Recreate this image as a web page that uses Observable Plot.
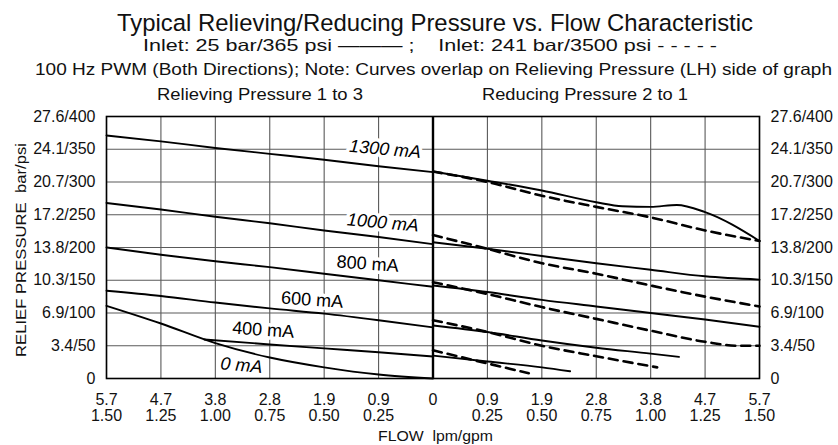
<!DOCTYPE html>
<html><head><meta charset="utf-8">
<script src="https://cdn.jsdelivr.net/npm/d3@7"></script>
<script src="https://cdn.jsdelivr.net/npm/@observablehq/plot@0.6"></script>
<style>
body{margin:0;background:#fff;}
#chart{width:838px;height:445px;}
</style>
</head><body><div id="chart"></div>
<script>
// ---------- data ----------
// flow in gpm: negative = Relieving side (1 to 3, plotted leftwards), positive = Reducing side (2 to 1)
const xTicks = [-1.5,-1.25,-1.0,-0.75,-0.5,-0.25,0,0.25,0.5,0.75,1.0,1.25,1.5];
const xTickLpm = ["5.7","4.7","3.8","2.8","1.9","0.9","0","0.9","1.9","2.8","3.8","4.7","5.7"];
const xTickGpm = ["1.50","1.25","1.00","0.75","0.50","0.25","","0.25","0.50","0.75","1.00","1.25","1.50"];
const yTicks = [0,50,100,150,200,250,300,350,400];
const yTickLabels = ["0","3.4/50","6.9/100","10.3/150","13.8/200","17.2/250","20.7/300","24.1/350","27.6/400"];

// Relieving side (curves overlap for both inlets)
const leftFlow = [-1.5,-1.25,-1.0,-0.75,-0.5,-0.25,0];
const left1300 = [371,362,352,343,334,324,315];
const left1000 = [268,258,247,237,226,216,205];
const left800  = [200,189,179,170,160,150,140];
const left600  = [134,126,116,107,99,89,78];
const left0    = [111,84,54,32,17,6,0];
const left400Flow = [-1.05,-0.75,-0.5,-0.25,0];
const left400  = [59.5,52,46,40,33.5];

// Reducing side, inlet 25 bar (solid)
const r1300sFlow = [0,0.25,0.5,0.75,0.87,1.0,1.12,1.25,1.5];
const r1300s     = [316,302,287,269,263,262,265,254,210];
const rStdFlow   = [0,0.25,0.5,0.75,1.0,1.25,1.5];
const r1000s     = [208,198,187,176,166,156,151];
const r800s      = [142,132,120,110,100,90,79];
const r600sFlow  = [0,0.25,0.5,0.75,1.0,1.13];
const r600s      = [81,71,58,47,38,33];
const r400sFlow  = [0,0.25,0.5,0.63];
const r400s      = [35,26,17,11];

// Reducing side, inlet 241 bar (dashed)
const r1300d     = [316,300,279,262,246,226,210];
const r1000d     = [219,198,176,160,142,125,110];
const r800dFlow  = [0,0.25,0.5,0.75,1.0,1.25,1.4,1.5];
const r800d      = [147,129,109,91,73,56,50,50];
const r600dFlow  = [0,0.25,0.5,0.75,1.03];
const r600d      = [89,71,50,34,17];
const r400dFlow  = [0,0.25,0.44];
const r400d      = [43,23,8];

// curve labels (anchor in data coordinates)
const labelText = ["1300 mA","1000 mA","800 mA","600 mA","400 mA","0 mA"];
const labelFlow = [-0.22,-0.23,-0.30,-0.555,-0.78,-0.88];
const labelPsi  = [350,238,175,120,74,20];
const labelItalic = [true,true,false,false,false,true];

// ---------- build tables ----------
function series(key, flows, vals){ return flows.map((f,i)=>({key, flow:f, psi:vals[i]})); }
const solid = [
  ...series("L1300", leftFlow, left1300),
  ...series("L1000", leftFlow, left1000),
  ...series("L800", leftFlow, left800),
  ...series("L600", leftFlow, left600),
  ...series("L0", leftFlow, left0),
  ...series("L400", left400Flow, left400),
  ...series("R1300", r1300sFlow, r1300s),
  ...series("R1000", rStdFlow, r1000s),
  ...series("R800", rStdFlow, r800s),
  ...series("R600", r600sFlow, r600s),
  ...series("R400", r400sFlow, r400s)
];
const dashed = [
  ...series("R1300", rStdFlow, r1300d),
  ...series("R1000", rStdFlow, r1000d),
  ...series("R800", r800dFlow, r800d),
  ...series("R600", r600dFlow, r600d),
  ...series("R400", r400dFlow, r400d)
];
const labels = labelText.map((t,i)=>({text:t, flow:labelFlow[i], psi:labelPsi[i], italic:labelItalic[i]}));

const font = "'Liberation Sans', Arial, Helvetica, sans-serif";
const xFmt = d => { const i = xTicks.indexOf(d); return xTickGpm[i] ? xTickLpm[i] + "\n" + xTickGpm[i] : xTickLpm[i]; };
const yFmt = d => yTickLabels[yTicks.indexOf(d)];

const chart = Plot.plot({
  width: 838, height: 445,
  marginTop: 116, marginBottom: 67, marginLeft: 106, marginRight: 79,
  style: {fontFamily: font, background: "white", color: "#111"},
  x: {domain: [-1.5, 1.5]},
  y: {domain: [0, 400]},
  marks: [
    Plot.gridX(xTicks, {stroke: "#5a5a5a", strokeOpacity: 1, strokeWidth: 1.1}),
    Plot.gridY(yTicks, {stroke: "#5a5a5a", strokeOpacity: 1, strokeWidth: 1.1}),
    Plot.axisY(yTicks, {anchor: "left", tickSize: 0, tickPadding: 11, tickFormat: yFmt, fontSize: 16, label: null}),
    Plot.axisY(yTicks, {anchor: "right", tickSize: 0, tickPadding: 11, tickFormat: yFmt, fontSize: 16, label: null}),
    Plot.axisX(xTicks, {anchor: "bottom", tickSize: 0, tickPadding: 15, tickFormat: xFmt, fontSize: 16, lineHeight: 1.0, label: null}),
    Plot.ruleX([0], {stroke: "black", strokeWidth: 2.4}),
    Plot.frame({stroke: "black", strokeWidth: 1.6}),
    Plot.line(solid, {x: "flow", y: "psi", z: "key", stroke: "black", strokeWidth: 1.9, curve: "monotone-x"}),
    Plot.line(dashed, {x: "flow", y: "psi", z: "key", stroke: "black", strokeWidth: 2.6, strokeDasharray: "9,6", curve: "monotone-x"}),
    Plot.text(labels.filter(d=>d.italic), {x: "flow", y: "psi", text: "text", rotate: 5, fontSize: 18, fontStyle: "italic", fill: "black", stroke: "white", strokeWidth: 7}),
    Plot.text(labels.filter(d=>!d.italic), {x: "flow", y: "psi", text: "text", rotate: 4, fontSize: 18, fill: "black", stroke: "white", strokeWidth: 7})
  ]
});
document.getElementById("chart").appendChild(chart);

// titles and axis names
const svg = d3.select(chart);
const g = svg.append("g").attr("font-family", font).attr("fill", "#111");
function addText(txt, x, y, size, len, anchor, rot){
  const t = g.append("text").attr("x", x).attr("y", y).attr("font-size", size)
    .attr("text-anchor", anchor || "start").attr("xml:space","preserve").style("white-space","pre").text(txt);
  if (len) t.attr("textLength", len).attr("lengthAdjust", "spacingAndGlyphs");
  if (rot) t.attr("transform", `rotate(${rot},${x},${y})`);
  return t;
}
addText("Typical Relieving/Reducing Pressure vs. Flow Characteristic", 117, 31, 24.5, 636);
addText("Inlet: 25 bar/365 psi ——— ;    Inlet: 241 bar/3500 psi - - - - -", 143, 51, 16.5, 574);
addText("100 Hz PWM (Both Directions); Note: Curves overlap on Relieving Pressure (LH) side of graph", 35, 74.5, 16.5, 797);
addText("Relieving Pressure 1 to 3", 157, 100, 16.5, 206);
addText("Reducing Pressure 2 to 1", 482, 100, 16.5, 206);
addText("RELIEF PRESSURE  bar/psi", 26, 357, 14.5, 214, "start", -90);
addText("FLOW  lpm/gpm", 378, 441, 15, 115);
</script>
</body></html>
